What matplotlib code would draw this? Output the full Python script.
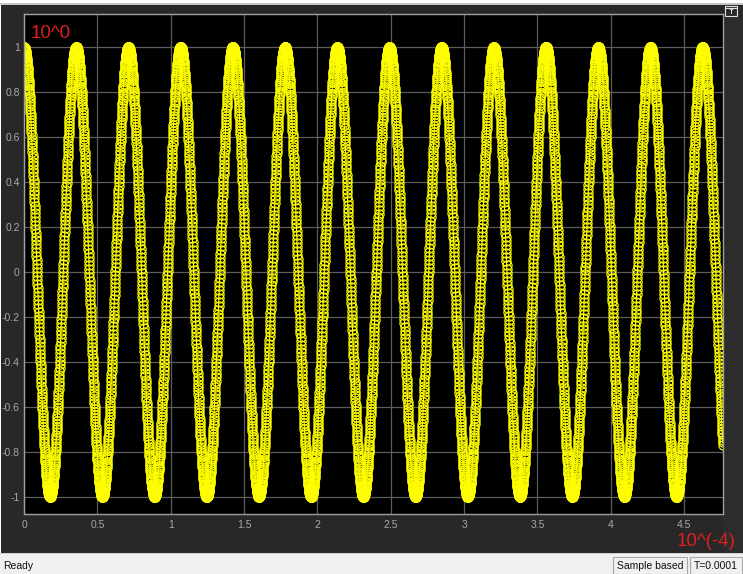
import numpy as np
import matplotlib
matplotlib.use("Agg")
import matplotlib.pyplot as plt
from matplotlib.patches import Rectangle
from matplotlib.lines import Line2D

# ---- data ----
amplitude = 1.0               # peak value
signal_freq_hz = 28100.0      # peak spacing ~0.356e-4 s
sample_time_s = 1e-7          # one marker per sample
t_end_s = 4.765e-4            # last sample at right edge
x_ticks = [0, 0.5, 1, 1.5, 2, 2.5, 3, 3.5, 4, 4.5]
x_tick_labels = ["0", "0.5", "1", "1.5", "2", "2.5", "3", "3.5", "4", "4.5"]
y_ticks = [-1, -0.8, -0.6, -0.4, -0.2, 0, 0.2, 0.4, 0.6, 0.8, 1]
y_tick_labels = ["-1", "-0.8", "-0.6", "-0.4", "-0.2", "0", "0.2", "0.4", "0.6", "0.8", "1"]
y_scale_label = "10^0"
x_scale_label = "10^(-4)"
status_text = "Ready"
status_boxes = ["Sample based", "T=0.0001"]

t = np.arange(0.0, t_end_s + sample_time_s / 2, sample_time_s)
y = amplitude * np.cos(2 * np.pi * signal_freq_hz * t)
t_disp = t * 1e4

W, H = 743, 574
fig = plt.figure(figsize=(W / 100, H / 100), dpi=100)
fig.patch.set_facecolor("white")

def fx(x):
    return x / W

def fy(yy):
    return 1 - yy / H

def rect(x0, y0, x1, y1, **kw):
    r = Rectangle((fx(x0), fy(y1)), fx(x1) - fx(x0), fy(y0) - fy(y1),
                  transform=fig.transFigure, **kw)
    fig.add_artist(r)
    return r

# frame
rect(0, 3, W, 4.5, facecolor="#c4c4c4", edgecolor="none", zorder=0)
rect(1, 4.5, W, 553, facecolor="#282828", edgecolor="none", zorder=0)
rect(723, 17, W, 553, facecolor="#2c2c2c", edgecolor="none", zorder=0)
rect(0, 553, W, 554, facecolor="#d0d0d0", edgecolor="none", zorder=0)
rect(0, 554, W, H, facecolor="#f0f0f0", edgecolor="none", zorder=0)

# axes
ax = fig.add_axes([fx(24), fy(514), fx(723) - fx(24), fy(14) - fy(514)])
ax.set_facecolor("black")
ax.plot(t_disp, y, color="#ffff00", lw=0.8, marker="o", markersize=6.6,
        markerfacecolor="none", markeredgecolor="#ffff00", markeredgewidth=0.85)
ax.set_xlim(0, 4.765)
ax.set_ylim(-1.0756, 1.1467)
ax.set_xticks(x_ticks)
ax.set_xticklabels(x_tick_labels)
ax.set_yticks(y_ticks)
ax.set_yticklabels(y_tick_labels)
ax.grid(True, color="#5c5c5c", lw=0.9)
ax.set_axisbelow(True)
ax.tick_params(length=0, pad=4, labelsize=7.5, labelcolor="#a8a8a8")
ax.tick_params(axis="y", pad=3)
for lab in ax.get_xticklabels() + ax.get_yticklabels():
    lab.set_family("Liberation Sans")
for s in ax.spines.values():
    s.set_color("#a0a0a0")
    s.set_linewidth(1.0)

# scale labels
fig.text(fx(31), fy(38), y_scale_label, color="#e01e1e", fontsize=13.5,
         family="Liberation Sans", ha="left", va="baseline")
fig.text(fx(735), fy(546), x_scale_label, color="#e01e1e", fontsize=13.5,
         family="Liberation Sans", ha="right", va="baseline")

# icon top right
rect(724.5, 6, 736.5, 15.5, facecolor="none", edgecolor="#e0e0e0", lw=0.8)
fig.add_artist(Line2D([fx(724.5), fx(736.5)], [fy(8), fy(8)], color="#e0e0e0",
                      lw=0.8, transform=fig.transFigure))
fig.text(fx(730.5), fy(11.5), "\u2191", color="#e0e0e0", fontsize=6,
         ha="center", va="center", fontweight="bold")

# status bar
fig.text(fx(3), fy(566), status_text, color="#101010", fontsize=7.5,
         family="Liberation Sans", ha="left", va="center")
rect(613, 557, 687, 574, facecolor="#f0f0f0", edgecolor="#a8a8a8", lw=0.8)
rect(690, 557, 741.5, 574, facecolor="#f0f0f0", edgecolor="#a8a8a8", lw=0.8)
fig.text(fx(650), fy(566), status_boxes[0], color="#101010", fontsize=7.5,
         family="Liberation Sans", ha="center", va="center")
fig.text(fx(715.5), fy(566), status_boxes[1], color="#101010", fontsize=7.5,
         family="Liberation Sans", ha="center", va="center")

fig.savefig("out.png", dpi=100, facecolor=fig.get_facecolor())
